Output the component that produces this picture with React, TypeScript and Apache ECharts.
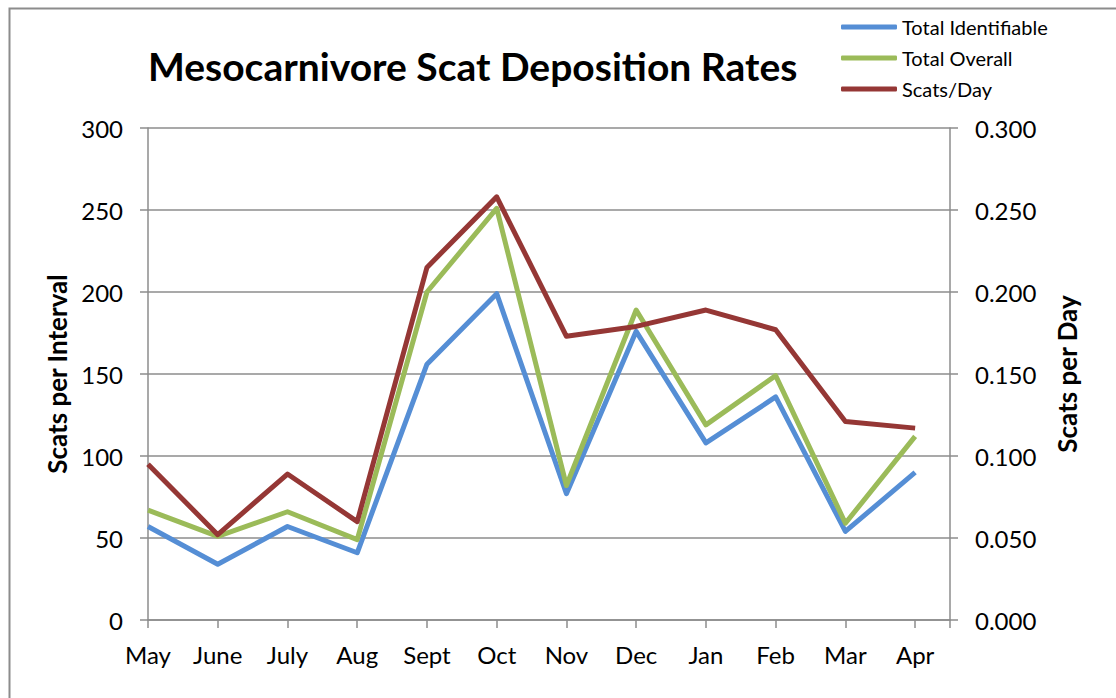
import React, { useEffect, useRef } from "react";
import * as echarts from "echarts";

const months = ["May", "June", "July", "Aug", "Sept", "Oct", "Nov", "Dec", "Jan", "Feb", "Mar", "Apr"];
const totalIdentifiable = [57, 34, 57, 41, 156, 199, 77, 176, 108, 136, 54, 90];
const totalOverall = [67, 51, 66, 49, 200, 251, 82, 189, 119, 149, 59, 112];
const scatsPerDay = [0.095, 0.052, 0.089, 0.06, 0.215, 0.258, 0.173, 0.179, 0.189, 0.177, 0.121, 0.117];
const leftTicks = { min: 0, max: 300, interval: 50 };
const rightTicks = { min: 0, max: 0.3, interval: 0.05 };

const FONT = "Lato";
const AXIS_GRAY = "#8c8c8c";

export default function App() {
  const ref = useRef<HTMLDivElement>(null);
  useEffect(() => {
    document.body.style.margin = "0";
    const chart = echarts.init(ref.current!, undefined, { renderer: "svg" });
    const pts = (arr: number[]) => arr.map((v, i) => [i, v]);
    chart.setOption({
      animation: false,
      backgroundColor: "#ffffff",
      textStyle: { fontFamily: FONT, color: "#000" },
      title: {
        text: "Mesocarnivore Scat Deposition Rates",
        left: 143,
        top: 37,
        textStyle: { fontFamily: FONT, fontWeight: "bold", fontSize: 39, lineHeight: 48, color: "#000" },
      },
      legend: {
        orient: "vertical",
        left: 836,
        top: 12,
        itemWidth: 56,
        itemHeight: 5,
        itemGap: 11,
        icon: "roundRect",
        textStyle: { fontFamily: FONT, fontSize: 20, lineHeight: 20, color: "#000" },
        data: ["Total Identifiable", "Total Overall", "Scats/Day"],
      },
      graphic: [
        {
          type: "rect",
          left: 7,
          top: 6,
          shape: { width: 1200, height: 800 },
          style: { fill: "none", stroke: AXIS_GRAY, lineWidth: 2 },
          silent: true,
        },
      ],
      grid: { left: 148, top: 128, right: 166, bottom: 78 },
      xAxis: {
        type: "value",
        min: 0,
        max: 11.5,
        interval: 1,
        axisLine: { show: true, lineStyle: { color: AXIS_GRAY, width: 1.5 } },
        axisTick: { show: true, length: 8, lineStyle: { color: AXIS_GRAY, width: 1.5 } },
        splitLine: { show: false },
        axisLabel: {
          margin: 22,
          fontSize: 24,
          color: "#000",
          fontFamily: FONT,
          formatter: (v: number) => (Number.isInteger(v) && months[v] !== undefined ? months[v] : ""),
        },
      },
      yAxis: [
        {
          type: "value",
          min: leftTicks.min,
          max: leftTicks.max,
          interval: leftTicks.interval,
          name: "Scats per Interval",
          nameLocation: "middle",
          nameGap: 74,
          nameTextStyle: { fontFamily: FONT, fontWeight: "bold", fontSize: 26, color: "#000" },
          axisLine: { show: true, lineStyle: { color: AXIS_GRAY, width: 1.5 } },
          axisTick: { show: true, length: 8, lineStyle: { color: AXIS_GRAY, width: 1.5 } },
          splitLine: { show: true, lineStyle: { color: AXIS_GRAY, width: 1.5 } },
          axisLabel: { margin: 25, fontSize: 24, color: "#000", fontFamily: FONT },
        },
        {
          type: "value",
          position: "right",
          min: rightTicks.min,
          max: rightTicks.max,
          interval: rightTicks.interval,
          name: "Scats per Day",
          nameLocation: "middle",
          nameGap: 104,
          nameRotate: 90,
          nameTextStyle: { fontFamily: FONT, fontWeight: "bold", fontSize: 26, color: "#000" },
          axisLine: { show: true, lineStyle: { color: AXIS_GRAY, width: 1.5 } },
          axisTick: { show: true, length: 8, lineStyle: { color: AXIS_GRAY, width: 1.5 } },
          splitLine: { show: false },
          axisLabel: {
            margin: 25,
            fontSize: 24,
            color: "#000",
            fontFamily: FONT,
            formatter: (v: number) => v.toFixed(3),
          },
        },
      ],
      series: [
        {
          name: "Total Identifiable",
          type: "line",
          data: pts(totalIdentifiable),
          symbol: "none",
          color: "#558ed5",
          lineStyle: { width: 5, color: "#558ed5", join: "round" },
        },
        {
          name: "Total Overall",
          type: "line",
          data: pts(totalOverall),
          symbol: "none",
          color: "#9bbb59",
          lineStyle: { width: 5, color: "#9bbb59", join: "round" },
        },
        {
          name: "Scats/Day",
          type: "line",
          yAxisIndex: 1,
          data: pts(scatsPerDay),
          symbol: "none",
          color: "#953735",
          lineStyle: { width: 5, color: "#953735", join: "round" },
        },
      ],
    });
    return () => chart.dispose();
  }, []);
  return <div ref={ref} style={{ width: 1116, height: 698 }} />;
}
